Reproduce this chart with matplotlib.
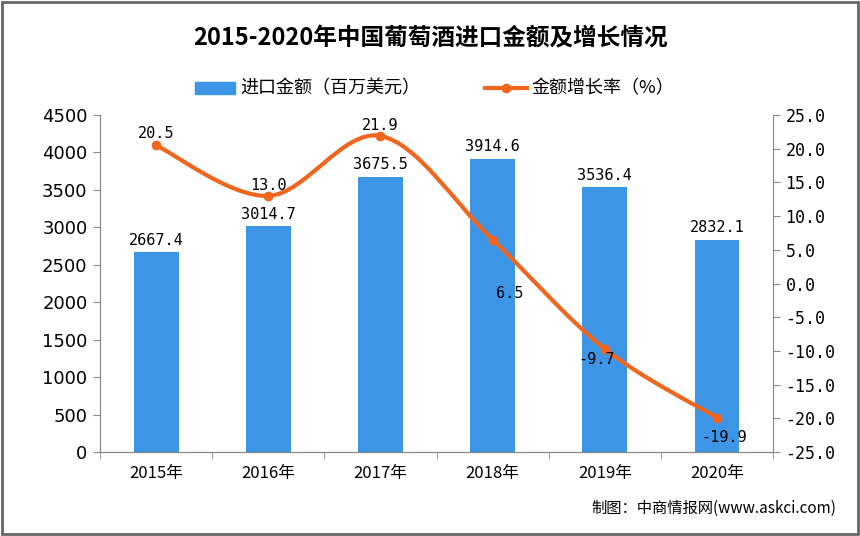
import matplotlib.pyplot as plt
import numpy as np
from matplotlib.path import Path
from matplotlib.patches import PathPatch, Rectangle
from matplotlib.lines import Line2D

plt.rcParams['font.family'] = ['Noto Sans CJK SC', 'DejaVu Sans']

jahre = ["2015年", "2016年", "2017年", "2018年", "2019年", "2020年"]
betrag = [2667.4, 3014.7, 3675.5, 3914.6, 3536.4, 2832.1]   # 进口金额（百万美元）
wachstum = [20.5, 13.0, 21.9, 6.5, -9.7, -19.9]              # 金额增长率（%）

blau = "#3d95e6"
orange = "#f0661f"
grau = "#888888"

fig = plt.figure(figsize=(8.6, 5.36), dpi=100)
ax = fig.add_axes([0.1163, 0.1567, 0.7826, 0.6287])
ax2 = ax.twinx()

x = np.arange(len(jahre))
ax.bar(x, betrag, width=0.4, color=blau, zorder=2)
for xi, v in zip(x, betrag):
    ax.text(xi, v + 60, f"{v:.1f}", ha="center", va="bottom", fontsize=11,
            family="DejaVu Sans Mono")

ax.set_ylim(0, 4500)
ax.set_yticks(np.arange(0, 4501, 500))
ax.set_xlim(-0.5, len(jahre) - 0.5)
ax.set_xticks(x)
ax.set_xticklabels(jahre, fontsize=12)
ax.set_xticks(np.arange(-0.5, len(jahre), 1), minor=True)
ax.tick_params(axis="x", which="major", length=0, pad=9)
ax.tick_params(axis="x", which="minor", length=5, color=grau)
ax.tick_params(axis="y", length=5, color=grau, labelsize=13, pad=4)
for lab in ax.get_yticklabels():
    lab.set_family("DejaVu Sans")

ax2.set_ylim(-25, 25)
ax2.set_yticks(np.arange(-25, 26, 5))
ax2.set_yticklabels([f"{t:.1f}" for t in np.arange(-25, 26, 5)], family="DejaVu Sans Mono", fontsize=12)
ax2.tick_params(axis="y", length=5, color=grau, pad=4)

for a in (ax, ax2):
    a.spines["top"].set_visible(False)
    for s in ("left", "right", "bottom"):
        a.spines[s].set_color(grau)
ax.spines["right"].set_visible(False)

# geglaettete Linie (Catmull-Rom als Bezier-Pfad)
pts = np.column_stack([x, wachstum]).astype(float)
verts = [pts[0]]
codes = [Path.MOVETO]
for i in range(len(pts) - 1):
    p0 = pts[i - 1] if i > 0 else pts[i]
    p1, p2 = pts[i], pts[i + 1]
    p3 = pts[i + 2] if i + 2 < len(pts) else pts[i + 1]
    c1 = p1 + (p2 - p0) / 6
    c2 = p2 - (p3 - p1) / 6
    verts += [c1, c2, p2]
    codes += [Path.CURVE4] * 3
ax2.add_patch(PathPatch(Path(verts, codes), facecolor="none", edgecolor=orange, lw=3, zorder=3))
ax2.plot(x, wachstum, "o", color=orange, ms=6, zorder=4)

offsets = [(0, 3), (0, 2), (0, 2), (12, -44), (-6, -13), (5, -20)]
for xi, v, off in zip(x, wachstum, offsets):
    ax2.annotate(f"{v:.1f}", (xi, v), xytext=off, textcoords="offset points",
                 ha="center", va="bottom", fontsize=11, family="DejaVu Sans Mono", zorder=5)

fig.text(0.5, 0.928, "2015-2020年中国葡萄酒进口金额及增长情况", ha="center", va="center",
         fontsize=17, fontweight="bold")

# Legende
fig.patches.append(Rectangle((195 / 860, 1 - 94 / 536), 40 / 860, 12 / 536,
                             transform=fig.transFigure, color=blau))
fig.text(240 / 860, 1 - 88 / 536, "进口金额（百万美元）", va="center", fontsize=13)
fig.lines.append(Line2D([485 / 860, 506 / 860, 527 / 860], [1 - 88 / 536] * 3,
                        transform=fig.transFigure, color=orange, lw=3,
                        marker="o", markevery=[1], ms=6))
fig.text(531 / 860, 1 - 88 / 536, "金额增长率（%）", va="center", fontsize=13)

fig.text(836 / 860, 1 - 508 / 536, "制图：中商情报网(www.askci.com)", ha="right", va="center",
         fontsize=11)

fig.patches.append(Rectangle((0.002, 0.003), 0.996, 0.994, transform=fig.transFigure,
                             fill=False, edgecolor="#666666", lw=2))

plt.savefig("out.png", dpi=100)
